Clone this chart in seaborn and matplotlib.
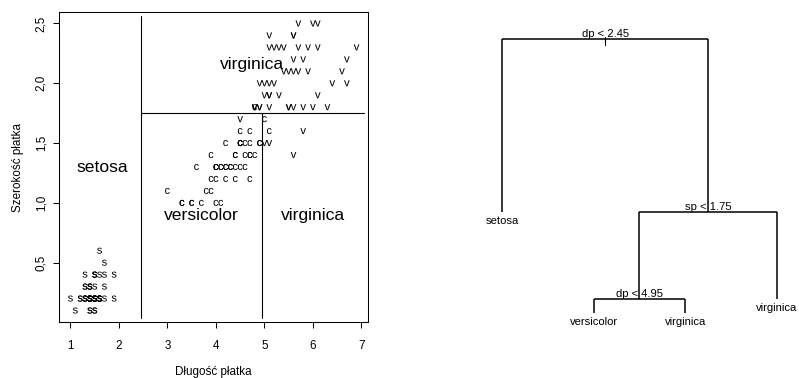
import numpy as np
import pandas as pd
import matplotlib
matplotlib.use("Agg")
import matplotlib.pyplot as plt
from matplotlib.transforms import offset_copy
import seaborn as sns

# ---------------- data (iris: petal length / petal width) ----------------
setosa_len = [1.4, 1.4, 1.3, 1.5, 1.4, 1.7, 1.4, 1.5, 1.4, 1.5, 1.5, 1.6, 1.4, 1.1, 1.2, 1.5, 1.3, 1.4, 1.7, 1.5,
              1.7, 1.5, 1.0, 1.7, 1.9, 1.6, 1.6, 1.5, 1.4, 1.6, 1.6, 1.5, 1.5, 1.4, 1.5, 1.2, 1.3, 1.4, 1.3, 1.5,
              1.3, 1.3, 1.3, 1.6, 1.9, 1.4, 1.6, 1.4, 1.5, 1.4]
setosa_wid = [0.2, 0.2, 0.2, 0.2, 0.2, 0.4, 0.3, 0.2, 0.2, 0.1, 0.2, 0.2, 0.1, 0.1, 0.2, 0.4, 0.4, 0.3, 0.3, 0.3,
              0.2, 0.4, 0.2, 0.5, 0.2, 0.2, 0.4, 0.2, 0.2, 0.2, 0.2, 0.4, 0.1, 0.2, 0.2, 0.2, 0.2, 0.1, 0.2, 0.2,
              0.3, 0.3, 0.2, 0.6, 0.4, 0.3, 0.2, 0.2, 0.2, 0.2]
versicolor_len = [4.7, 4.5, 4.9, 4.0, 4.6, 4.5, 4.7, 3.3, 4.6, 3.9, 3.5, 4.2, 4.0, 4.7, 3.6, 4.4, 4.5, 4.1, 4.5, 3.9,
                  4.8, 4.0, 4.9, 4.7, 4.3, 4.4, 4.8, 5.0, 4.5, 3.5, 3.8, 3.7, 3.9, 5.1, 4.5, 4.5, 4.7, 4.4, 4.1, 4.0,
                  4.4, 4.6, 4.0, 3.3, 4.2, 4.2, 4.2, 4.3, 3.0, 4.1]
versicolor_wid = [1.4, 1.5, 1.5, 1.3, 1.5, 1.3, 1.6, 1.0, 1.3, 1.4, 1.0, 1.5, 1.0, 1.4, 1.3, 1.4, 1.5, 1.0, 1.5, 1.1,
                  1.8, 1.3, 1.5, 1.2, 1.3, 1.4, 1.4, 1.7, 1.5, 1.0, 1.1, 1.0, 1.2, 1.6, 1.5, 1.6, 1.5, 1.3, 1.3, 1.3,
                  1.2, 1.4, 1.2, 1.0, 1.3, 1.2, 1.3, 1.3, 1.1, 1.3]
virginica_len = [6.0, 5.1, 5.9, 5.6, 5.8, 6.6, 4.5, 6.3, 5.8, 6.1, 5.1, 5.3, 5.5, 5.0, 5.1, 5.3, 5.5, 6.7, 6.9, 5.0,
                 5.7, 4.9, 6.7, 4.9, 5.7, 6.0, 4.8, 4.9, 5.6, 5.8, 6.1, 6.4, 5.6, 5.1, 5.6, 6.1, 5.6, 5.5, 4.8, 5.4,
                 5.6, 5.1, 5.1, 5.9, 5.7, 5.2, 5.0, 5.2, 5.4, 5.1]
virginica_wid = [2.5, 1.9, 2.1, 1.8, 2.2, 2.1, 1.7, 1.8, 1.8, 2.5, 2.0, 1.9, 2.1, 2.0, 2.4, 2.3, 1.8, 2.2, 2.3, 1.5,
                 2.3, 2.0, 2.0, 1.8, 2.1, 1.8, 1.8, 1.8, 2.1, 1.6, 1.9, 2.0, 2.2, 1.5, 1.4, 2.3, 2.4, 1.8, 1.8, 2.1,
                 2.4, 2.3, 1.9, 2.3, 2.5, 2.3, 1.9, 2.0, 2.3, 1.8]
species = ["setosa", "versicolor", "virginica"]
species_letter = ["s", "c", "v"]

# partition splits (petal length / petal width)
split_len_1 = 2.45
split_wid = 1.75
split_len_2 = 4.95

# axis ticks
x_ticks = [1, 2, 3, 4, 5, 6, 7]
x_ticklabels = ["1", "2", "3", "4", "5", "6", "7"]
y_ticks = [0.5, 1.0, 1.5, 2.0, 2.5]
y_ticklabels = ["0,5", "1,0", "1,5", "2,0", "2,5"]
x_title = "Długość płatka"
y_title = "Szerokość płatka"

# tree (like R's tree$frame): node ids, deviance, labels
node_id = [1, 2, 3, 6, 12, 13, 7]
node_dev = [329.58, 0.0, 138.63, 33.32, 9.72, 7.64, 9.64]
node_label = ["dp < 2.45", "setosa", "sp < 1.75", "dp < 4.95", "versicolor", "virginica", "virginica"]
node_leaf = [False, True, False, False, True, True, True]

# ---------------- style ----------------
sns.set_theme(style="white")
plt.rcParams["font.family"] = ["Liberation Sans", "DejaVu Sans"]
plt.rcParams["mathtext.fontset"] = "custom"
plt.rcParams["mathtext.rm"] = "Liberation Sans"

df = pd.DataFrame({
    "dp": setosa_len + versicolor_len + virginica_len,
    "sp": setosa_wid + versicolor_wid + virginica_wid,
    "species": [species[0]] * len(setosa_len) + [species[1]] * len(versicolor_len) + [species[2]] * len(virginica_len),
})

fig = plt.figure(figsize=(7.99, 3.78), dpi=100)

# ---------------- left: scatter with partition ----------------
ax = fig.add_axes([59 / 799, 56 / 378, 309 / 799, 310 / 378])
markers = {sp: r"$\mathrm{%s}$" % l for sp, l in zip(species, species_letter)}
sns.scatterplot(data=df, x="dp", y="sp", style="species", markers=markers, color="black",
                s=19, linewidth=0, legend=False, ax=ax)

xmin, xmax = df["dp"].min(), df["dp"].max()
ymin, ymax = df["sp"].min(), df["sp"].max()
xr, yr = xmax - xmin, ymax - ymin
ax.set_xlim(xmin - 0.04 * xr, xmax + 0.04 * xr)
ax.set_ylim(ymin - 0.04 * yr, ymax + 0.04 * yr)

# partition lines (range extended by 2.5%)
px_lo, px_hi = xmin - 0.025 * xr, xmax + 0.025 * xr
py_lo, py_hi = ymin - 0.025 * yr, ymax + 0.025 * yr
lkw = dict(color="black", lw=0.8)
ax.plot([split_len_1, split_len_1], [py_lo, py_hi], **lkw)
ax.plot([split_len_1, px_hi], [split_wid, split_wid], **lkw)
ax.plot([split_len_2, split_len_2], [py_lo, split_wid], **lkw)

regions = [
    ("setosa", (px_lo, split_len_1), (py_lo, py_hi)),
    ("versicolor", (split_len_1, split_len_2), (py_lo, split_wid)),
    ("virginica", (split_len_2, px_hi), (py_lo, split_wid)),
    ("virginica", (split_len_1, px_hi), (split_wid, py_hi)),
]
for lab, (x0, x1), (y0, y1) in regions:
    ax.text((x0 + x1) / 2, (y0 + y1) / 2, lab, ha="center", va="center", fontsize=12.6, color="black")

ax.set_xticks(x_ticks)
ax.set_xticklabels(x_ticklabels)
ax.set_yticks(y_ticks)
ax.set_yticklabels(y_ticklabels, rotation=90, va="center")
ax.tick_params(axis="both", which="both", bottom=True, left=True, direction="out", length=4.5,
               width=0.75, color="black", labelsize=8.4, labelcolor="black")
ax.tick_params(axis="x", pad=8.5)
ax.tick_params(axis="y", pad=4)
for s in ax.spines.values():
    s.set_color("black")
    s.set_linewidth(0.75)
ax.set_xlabel(x_title, fontsize=8.4, color="black")
ax.set_ylabel(y_title, fontsize=8.4, color="black")
ax.xaxis.set_label_coords(0.5, -50 / 310)
ax.xaxis.label.set_va("center")
ax.yaxis.set_label_coords(-41 / 309, 0.5)
ax.yaxis.label.set_va("center")

# ---------------- right: classification tree ----------------
ax2 = fig.add_axes([0.5, 0.0, 0.5, 1.0])
ax2.set_axis_off()
ax2.set_xlim(-0.118, 4.240)
ax2.set_ylim(-44.6, 372.6)

dev = dict(zip(node_id, node_dev))
lab = dict(zip(node_id, node_label))
leaf = dict(zip(node_id, node_leaf))


def leaves_of(n):
    return [n] if leaf[n] else leaves_of(2 * n) + leaves_of(2 * n + 1)


xpos = {}
for i, n in enumerate(leaves_of(1), start=1):
    xpos[n] = float(i)


def set_x(n):
    if not leaf[n]:
        xpos[n] = (set_x(2 * n) + set_x(2 * n + 1)) / 2
    return xpos[n]


set_x(1)
lev = {1: dev[1]}
for n in node_id:
    if not leaf[n]:
        lvl = lev[n] - (dev[n] - dev[2 * n] - dev[2 * n + 1])
        lev[2 * n] = lvl
        lev[2 * n + 1] = lvl

tkw = dict(color="black", lw=1.1, solid_capstyle="butt")
for n in node_id:
    if leaf[n]:
        continue
    l, r = 2 * n, 2 * n + 1
    ax2.plot([xpos[l], xpos[r]], [lev[n], lev[n]], **tkw)
    ax2.plot([xpos[l], xpos[l]], [lev[n], lev[l]], **tkw)
    ax2.plot([xpos[r], xpos[r]], [lev[n], lev[r]], **tkw)

# short stem under root
ax2.plot([xpos[1], xpos[1]], [lev[1] + 2.5, lev[1] - 6.5], color="black", lw=0.8)

up_tr = offset_copy(ax2.transData, fig=fig, x=0, y=2, units="dots")
down_tr = offset_copy(ax2.transData, fig=fig, x=0, y=-9, units="dots")
for n in node_id:
    if leaf[n]:
        ax2.text(xpos[n], lev[n], lab[n], transform=down_tr, ha="center", va="center",
                 fontsize=8.1, color="black")
    else:
        ax2.text(xpos[n], lev[n], lab[n], transform=up_tr, ha="center", va="baseline",
                 fontsize=8.1, color="black")

fig.savefig("out.png", dpi=100)
